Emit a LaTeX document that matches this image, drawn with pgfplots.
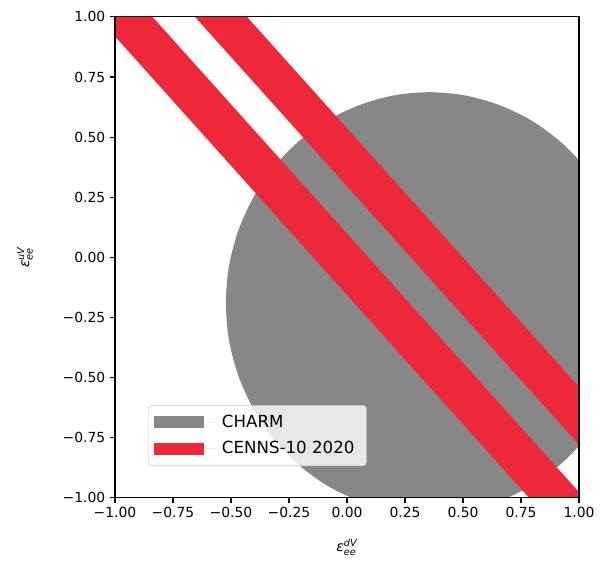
\documentclass[border=0pt]{standalone}
\usepackage{pgfplots}
\pgfplotsset{compat=1.18}
\usepackage{fontspec}
\setmainfont{DejaVu Sans}

\definecolor{charmgray}{RGB}{135,135,135}
\definecolor{cennsred}{RGB}{237,41,57}

% boundary of the CHARM allowed region (closed; first point repeated)
\pgfplotstableread{
x y
1.232 -0.190
1.219 -0.038
1.179 0.110
1.114 0.249
1.027 0.374
0.919 0.482
0.794 0.570
0.655 0.634
0.507 0.674
0.355 0.687
0.203 0.674
0.055 0.634
-0.084 0.570
-0.209 0.482
-0.317 0.374
-0.404 0.249
-0.469 0.110
-0.509 -0.038
-0.522 -0.190
-0.509 -0.342
-0.469 -0.490
-0.404 -0.629
-0.317 -0.754
-0.209 -0.862
-0.084 -0.950
0.055 -1.014
0.203 -1.054
0.355 -1.067
0.507 -1.054
0.655 -1.014
0.794 -0.950
0.919 -0.862
1.027 -0.754
1.114 -0.629
1.179 -0.490
1.219 -0.342
1.232 -0.190
}\charm

% CENNS-10 bands: two parallel strips (edges u = a - 1.075 d)
\pgfplotstableread{
x y
-1.2 1.389
1.2 -1.191
1.2 -1.446
-1.2 1.134
}\bandA

\pgfplotstableread{
x y
-1.2 1.827
1.2 -0.753
1.2 -0.994
-1.2 1.586
}\bandB

\begin{document}
\begin{tikzpicture}
\begin{axis}[
  width=334.1pt, height=346.3pt, scale only axis,
  xmin=-1, xmax=1, ymin=-1, ymax=1,
  axis on top,
  axis line style={line width=0.8pt},
  tick align=outside,
  tick pos=left,
  major tick length=3.5pt,
  every tick/.style={black, line width=0.8pt},
  xtick={-1,-0.75,-0.5,-0.25,0,0.25,0.5,0.75,1},
  ytick={-1,-0.75,-0.5,-0.25,0,0.25,0.5,0.75,1},
  xticklabels={−1.00,−0.75,−0.50,−0.25,0.00,0.25,0.50,0.75,1.00},
  yticklabels={−1.00,−0.75,−0.50,−0.25,0.00,0.25,0.50,0.75,1.00},
  tick label style={font=\fontsize{10}{12}\selectfont},
  xlabel={$\mbox{\itshape ε}^{\mbox{\itshape\fontsize{7}{8}\selectfont dV}}_{\mbox{\itshape\fontsize{7}{8}\selectfont ee}}$},
  ylabel={$\mbox{\itshape ε}^{\mbox{\itshape\fontsize{7}{8}\selectfont uV}}_{\mbox{\itshape\fontsize{7}{8}\selectfont ee}}$},
  label style={font=\fontsize{10}{12}\selectfont},
  xlabel style={yshift=-8.5pt},
  ylabel style={at={(rel axis cs:-0.1667,0.5)}, anchor=south},
  legend cell align=left,
  legend image code/.code={%
    \fill[#1, fill opacity=1, sharp corners] (0pt,-4.2pt) rectangle (36pt,4.2pt);
    \path (0pt,0pt) -- (44.6pt,0pt);},
  legend style={
    at={(0.071,0.193)}, anchor=north west,
    fill=white, fill opacity=0.8, text opacity=1, draw opacity=1,
    draw=black!20, rounded corners=2.5pt,
    font=\fontsize{12}{14}\selectfont,
    inner xsep=4pt, inner ysep=5pt,
    row sep=4.7pt,
    nodes={inner xsep=4.5pt},
  },
]
\addplot[fill=charmgray, draw=none, smooth] table {\charm} -- cycle;
\addlegendentry{CHARM}
\addplot[fill=cennsred, draw=none] table {\bandA} -- cycle;
\addlegendentry{CENNS-10 2020}
\addplot[fill=cennsred, draw=none, forget plot] table {\bandB} -- cycle;
\end{axis}
\pgfresetboundingbox
\path ([shift={(-82.8pt,-45.4pt)}]current axis.south west)
  rectangle ([shift={(17.3pt,12.2pt)}]current axis.north east);
\end{tikzpicture}
\end{document}
